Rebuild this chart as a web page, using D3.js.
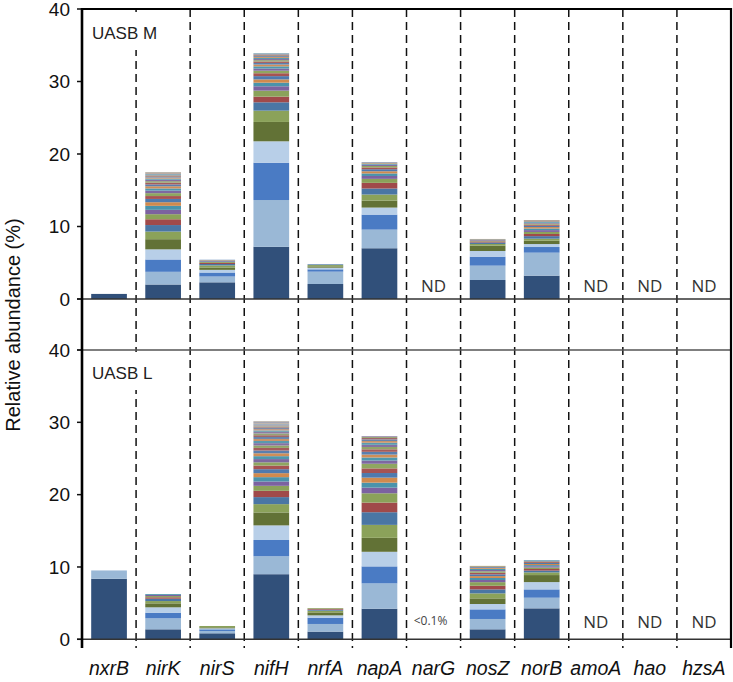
<!DOCTYPE html>
<html><head><meta charset="utf-8">
<script src="https://cdn.jsdelivr.net/npm/d3@7"></script>
<style>html,body{margin:0;padding:0;background:#fff;}svg{display:block;}</style>
</head><body>
<script>
const genes = ["nxrB","nirK","nirS","nifH","nrfA","napA","narG","nosZ","norB","amoA","hao","hzsA"];
const yTicks = [0,10,20,30,40];
const panelNames = ["UASB M","UASB L"];
const uasbM = [
 [0.7],
 [2.0,1.75,1.7,1.4,1.4,1.05,0.9,0.8,0.7,0.6,0.55,0.5,0.45,0.4,0.4,0.35,0.3,0.3,0.25,0.25,0.2,0.2,0.15,0.15,0.1,0.1,0.1,0.1,0.1,0.1,0.05,0.05,0.05],
 [2.3,0.8,0.55,0.37,0.33,0.28,0.2,0.15,0.12,0.1,0.08,0.07,0.06],
 [7.2,6.45,5.15,2.95,2.67,1.56,1.15,0.78,0.83,0.6,0.5,0.45,0.45,0.4,0.35,0.3,0.3,0.25,0.22,0.2,0.18,0.16,0.15,0.14,0.12,0.11,0.1,0.1,0.08],
 [2.07,1.7,0.32,0.23,0.18,0.18,0.1],
 [7.0,2.57,2.07,0.97,0.97,0.83,0.83,0.78,0.55,0.4,0.35,0.3,0.28,0.25,0.2,0.18,0.15,0.12,0.07],
 [],
 [2.62,1.98,1.24,0.78,0.74,0.23,0.2,0.15,0.12,0.1,0.07,0.05],
 [3.22,3.17,0.78,0.41,0.46,0.28,0.35,0.3,0.28,0.25,0.22,0.2,0.18,0.16,0.14,0.12,0.1,0.09,0.08,0.06,0.04],
 [],[],[]
];
const uasbL = [
 [8.37,1.15],
 [1.38,1.52,0.78,0.74,0.55,0.32,0.32,0.2,0.17,0.15,0.12],
 [0.83,0.32,0.23,0.14,0.14,0.18],
 [9.0,2.48,2.25,2.02,1.79,1.15,0.97,0.87,0.69,0.6,0.6,0.55,0.55,0.5,0.45,0.45,0.4,0.4,0.38,0.36,0.34,0.32,0.3,0.28,0.27,0.25,0.24,0.22,0.2,0.19,0.18,0.16,0.15,0.14,0.12,0.1,0.1,0.08,0.05],
 [1.06,1.06,0.87,0.32,0.41,0.23,0.15,0.12,0.1],
 [4.23,3.5,2.35,2.02,1.93,1.79,1.75,1.33,1.29,0.78,0.69,0.69,0.64,0.64,0.64,0.45,0.42,0.4,0.38,0.35,0.32,0.3,0.28,0.25,0.22,0.2,0.15,0.1],
 [],
 [1.38,1.43,1.33,0.74,0.78,0.69,0.55,0.5,0.5,0.3,0.28,0.26,0.24,0.22,0.2,0.18,0.16,0.14,0.11,0.08,0.08],
 [4.28,1.47,1.15,1.01,0.97,0.37,0.25,0.22,0.2,0.18,0.16,0.15,0.14,0.12,0.1,0.1,0.08],
 [],[],[]
];
const notesM = ["","","","","","","ND","","","ND","ND","ND"];
const notesL = ["","","","","","","<0.1%","","","ND","ND","ND"];
const palette = ["#31507A","#9AB8D6","#4A7BC4","#B8CFE8","#627236","#8BA25A",
 "#4A76A4","#A04A4A","#8BA25A","#7C62A0","#4A93AB","#D08A4E",
 "#4E7AAE","#A65352","#8FA660","#7E68A0","#4E98AE","#CF8E58",
 "#5A7FAE","#A45C5C","#92A468","#8570A2","#5A9AAE","#C8936A",
 "#6884AC","#A06868","#96A474","#8C7CA4","#6A9CAC","#C09A80",
 "#7A8CAA","#A07A7A","#9AA284","#9288A6","#80A0AC","#B8A090",
 "#8A94A8","#A08888","#9CA090","#9890A4","#A8909C"];

const W = 733, H = 682;
const L = 82, R = 731, TOP = 9, BOT = 648;
const font = "'Liberation Sans', Arial, Helvetica, sans-serif";
const svg = d3.select("body").append("svg").attr("width", W).attr("height", H);

const x = d3.scaleBand().domain(genes).range([L, R]).paddingInner(0.34).paddingOuter(0.17);
const step = x.step();
const panels = [
  {data: uasbM, notes: notesM, y: d3.scaleLinear().domain([0,40]).range([299, 9]), name: panelNames[0], noteY: 292},
  {data: uasbL, notes: notesL, y: d3.scaleLinear().domain([0,40]).range([639.3, 350]), name: panelNames[1], noteY: 628}
];

// dashed separators
for (let i = 1; i < genes.length; i++) {
  const xx = L + step * i;
  svg.append("line").attr("x1", xx).attr("x2", xx).attr("y1", TOP).attr("y2", BOT)
    .attr("stroke", "#111").attr("stroke-width", 1.5).attr("stroke-dasharray", "8,5");
}

panels.forEach((p, pi) => {
  const g = svg.append("g");
  // bars
  p.data.forEach((segs, gi) => {
    let cum = 0;
    segs.forEach((v, si) => {
      g.append("rect")
        .attr("x", x(genes[gi]))
        .attr("width", x.bandwidth())
        .attr("y", p.y(cum + v))
        .attr("height", p.y(cum) - p.y(cum + v))
        .attr("fill", palette[si % palette.length]);
      cum += v;
    });
  });
  // notes
  p.notes.forEach((n, gi) => {
    if (!n) return;
    g.append("text").attr("x", x(genes[gi]) + x.bandwidth() / 2 + (n === "ND" ? 0 : -3))
      .attr("y", n === "ND" ? p.noteY : p.noteY - 3)
      .attr("text-anchor", "middle").attr("font-family", "'Open Sans', 'Liberation Sans', sans-serif")
      .attr("font-size", n === "ND" ? 17 : 12).attr("fill", n === "ND" ? "#333" : "#444").text(n);
  });
  // panel label with white background
  const lblY = pi === 0 ? 39 : 379;
  g.append("rect").attr("x", 88).attr("y", lblY - 27).attr("width", 80).attr("height", 38).attr("fill", "#fff");
  g.append("text").attr("x", 92).attr("y", lblY).attr("font-family", font).attr("font-size", 17)
    .attr("fill", "#222").text(p.name);
  // zero line / top line of panel
  g.append("line").attr("x1", L - 5).attr("x2", R).attr("y1", p.y(0)).attr("y2", p.y(0))
    .attr("stroke", "#333").attr("stroke-width", 1.6);
  if (pi === 1) {
    g.append("line").attr("x1", L - 5).attr("x2", R).attr("y1", p.y(40)).attr("y2", p.y(40))
      .attr("stroke", "#555").attr("stroke-width", 1.5);
  }
  // ticks and labels
  yTicks.forEach(t => {
    g.append("line").attr("x1", L - 5).attr("x2", L).attr("y1", p.y(t)).attr("y2", p.y(t))
      .attr("stroke", "#111").attr("stroke-width", 1.5);
    g.append("text").attr("x", 70).attr("y", p.y(t)).attr("dy", "0.36em")
      .attr("text-anchor", "end").attr("font-family", font).attr("font-size", 19)
      .attr("fill", "#111").text(t);
  });
});

// frame
svg.append("line").attr("x1", L).attr("x2", R + 1).attr("y1", TOP).attr("y2", TOP)
  .attr("stroke", "#000").attr("stroke-width", 2);
svg.append("line").attr("x1", L).attr("x2", L).attr("y1", TOP - 1).attr("y2", BOT)
  .attr("stroke", "#000").attr("stroke-width", 2.6);
svg.append("line").attr("x1", R).attr("x2", R).attr("y1", TOP - 1).attr("y2", BOT)
  .attr("stroke", "#000").attr("stroke-width", 2.2);

// category labels
genes.forEach(gn => {
  svg.append("text").attr("x", x(gn) + x.bandwidth() / 2).attr("y", 675)
    .attr("text-anchor", "middle").attr("font-family", font).attr("font-style", "italic")
    .attr("font-size", 19.5).attr("fill", "#111").text(gn);
});

// y axis label
svg.append("text").attr("transform", "translate(20,325) rotate(-90)")
  .attr("text-anchor", "middle").attr("font-family", font).attr("font-size", 20)
  .attr("fill", "#111").text("Relative abundance (%)");
</script>
</body></html>
